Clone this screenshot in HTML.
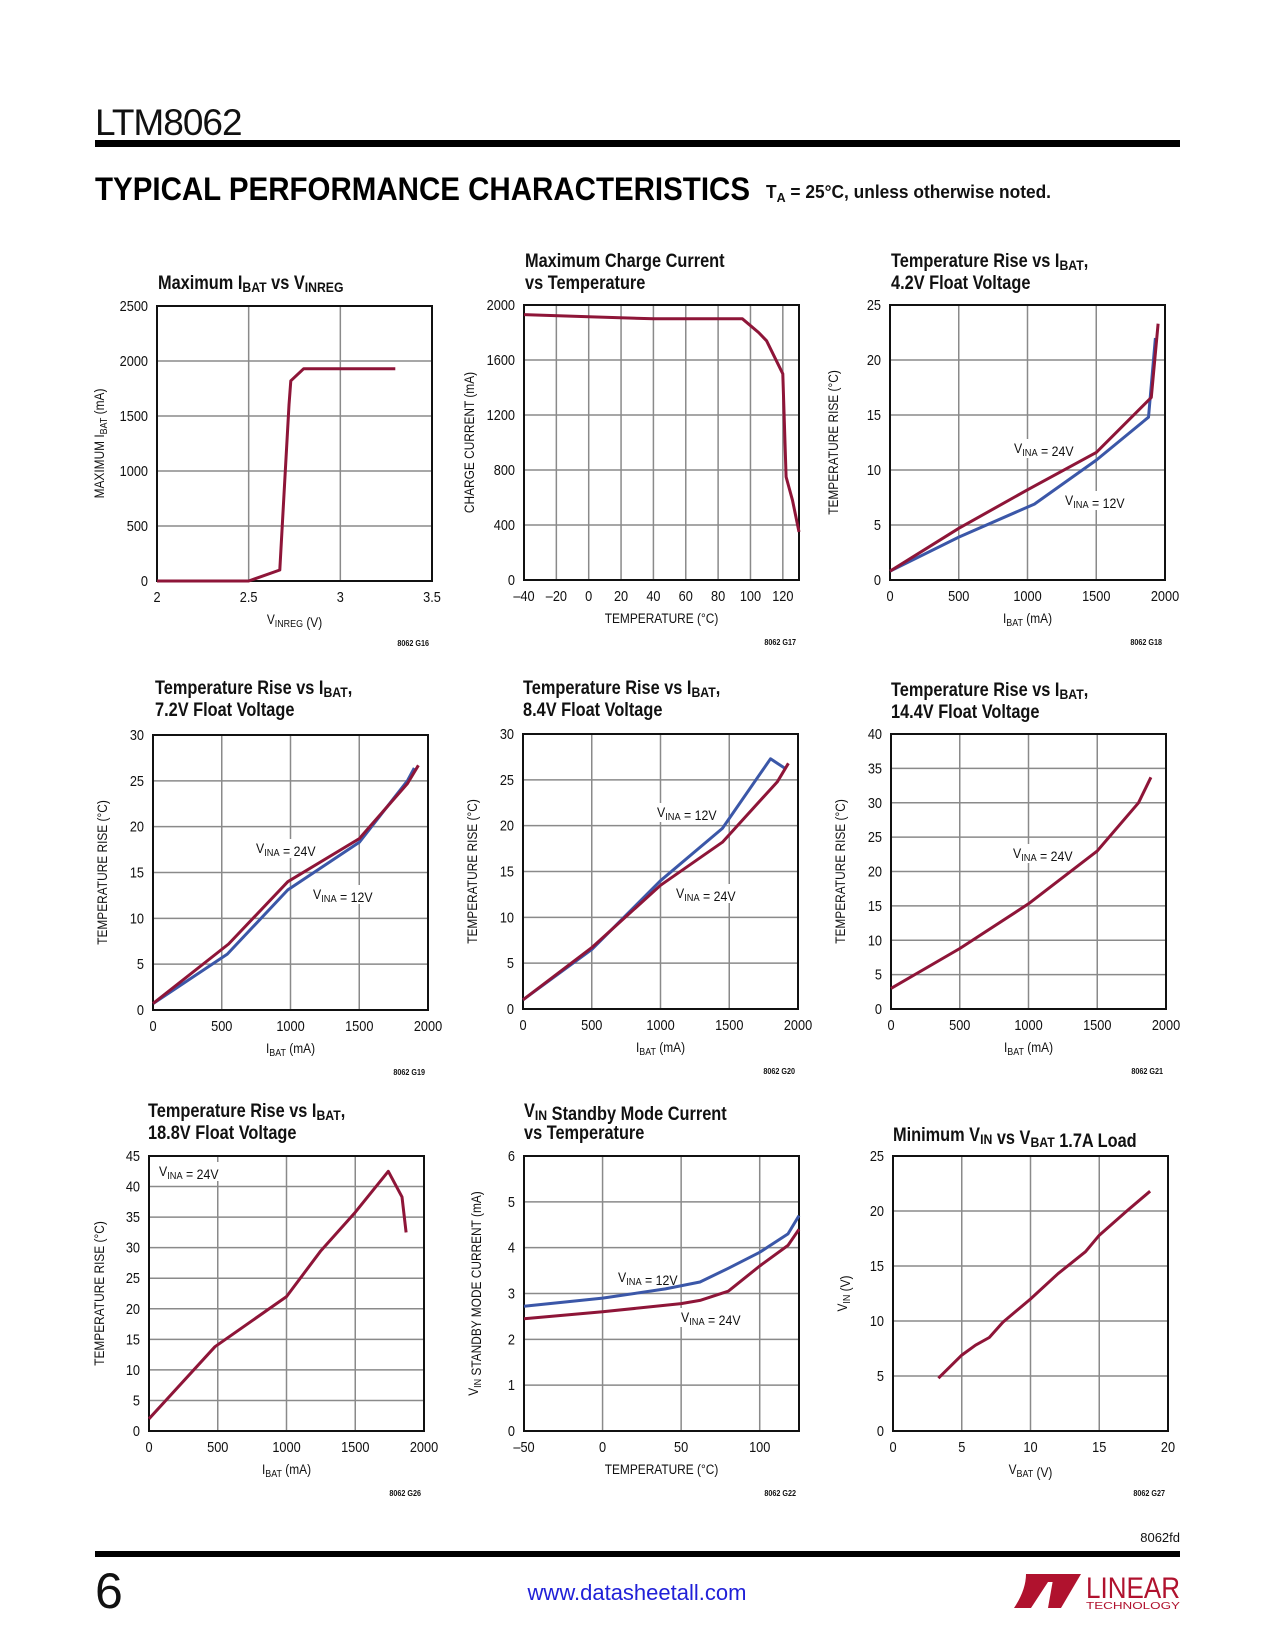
<!DOCTYPE html>
<html><head><meta charset="utf-8"><style>
html,body{margin:0;padding:0;background:#fff;}
svg{display:block;}
</style></head><body>
<svg id="page" width="1275" height="1650" viewBox="0 0 1275 1650" xmlns="http://www.w3.org/2000/svg" font-family="'Liberation Sans', sans-serif">
<g>
<text x="95" y="135" font-size="37" fill="#111" letter-spacing="-1">LTM8062</text>
<rect x="95" y="140" width="1085" height="7" fill="#000"/>
<text x="95" y="200" font-size="32" font-weight="bold" textLength="655" lengthAdjust="spacingAndGlyphs" fill="#000">TYPICAL PERFORMANCE CHARACTERISTICS</text>
<text x="766" y="198" font-size="18" font-weight="bold" textLength="285" lengthAdjust="spacingAndGlyphs" fill="#111">T<tspan font-size="13" dy="4">A</tspan><tspan dy="-4"> = 25°C, unless otherwise noted.</tspan></text>
</g>
<g id="charts"></g>
<g>
<text x="1180" y="1542" font-size="13" text-anchor="end" fill="#111">8062fd</text>
<rect x="95" y="1551" width="1085" height="6" fill="#000"/>
<text x="95" y="1608" font-size="50" fill="#111">6</text>
<text x="637" y="1600" font-size="22" text-anchor="middle" fill="#2020d8">www.datasheetall.com</text>
<g transform="translate(-14,-16)">
<path d="M1040 1590 L1082 1590 L1075 1598 L1062 1598 L1045 1624 L1028 1624 Q1040 1606 1040 1590 Z" fill="#b0122e"/>
<path d="M1068 1590 L1095 1590 L1075 1624 L1062 1624 Z" fill="#b0122e"/>
<text x="1100" y="1614" font-size="30" fill="#b0122e" textLength="94" lengthAdjust="spacingAndGlyphs">LINEAR</text>
<text x="1100" y="1625" font-size="10" fill="#b0122e" textLength="94" lengthAdjust="spacingAndGlyphs">TECHNOLOGY</text>
</g>
</g>
</svg>
<script>
// ---- chart data ----
const c1X = [2, 2.5, 2.67, 2.7, 2.72, 2.73, 2.8, 3.3];
const c1Y = [0, 0, 100, 1000, 1600, 1820, 1930, 1930];
const c2X = [-40, 0, 40, 95, 105, 110, 120, 122, 126, 130];
const c2Y = [1930, 1915, 1900, 1900, 1800, 1740, 1500, 750, 580, 350];
const c3X24 = [0, 500, 1000, 1500, 1900, 1950];
const c3Y24 = [0.8, 4.7, 8.2, 11.6, 16.6, 23.3];
const c3X12 = [0, 500, 1050, 1500, 1880, 1930];
const c3Y12 = [0.8, 3.9, 6.9, 10.9, 14.8, 22];
const c4X24 = [0, 550, 980, 1500, 1850, 1930];
const c4Y24 = [0.7, 7.2, 14, 18.7, 24.7, 26.7];
const c4X12 = [0, 540, 980, 1500, 1850, 1900];
const c4Y12 = [0.7, 6.1, 13.1, 18.3, 25, 26.4];
const c5X24 = [0, 500, 1000, 1450, 1850, 1930];
const c5Y24 = [1, 6.7, 13.5, 18.2, 24.8, 26.8];
const c5X12 = [0, 500, 1000, 1450, 1800, 1900];
const c5Y12 = [1, 6.5, 14, 19.7, 27.3, 26.3];
const c6X = [0, 500, 1000, 1500, 1800, 1890];
const c6Y = [3, 8.8, 15.3, 23, 30, 33.7];
const c7X = [0, 480, 1000, 1250, 1500, 1740, 1840, 1870];
const c7Y = [2, 13.8, 22, 29.5, 35.8, 42.5, 38.3, 32.5];
const c8X12 = [-50, 0, 40, 62, 80, 100, 118, 125];
const c8Y12 = [2.72, 2.9, 3.1, 3.25, 3.55, 3.9, 4.3, 4.7];
const c8X24 = [-50, 0, 50, 62, 80, 100, 118, 125];
const c8Y24 = [2.45, 2.6, 2.78, 2.85, 3.05, 3.6, 4.05, 4.4];
const c9X = [3.3, 5, 6, 7, 8, 10, 12, 14, 15, 17, 18.7];
const c9Y = [4.8, 6.9, 7.8, 8.5, 9.9, 12, 14.3, 16.3, 17.8, 20, 21.8];
// tick labels
const ticks1X = [2, 2.5, 3, 3.5], ticks1Y = [0, 500, 1000, 1500, 2000, 2500];
const ticks2X = [-40, -20, 0, 20, 40, 60, 80, 100, 120], ticks2Y = [0, 400, 800, 1200, 1600, 2000];
const ticksI = [0, 500, 1000, 1500, 2000];
const ticks25 = [0, 5, 10, 15, 20, 25], ticks30 = [0, 5, 10, 15, 20, 25, 30];
const ticks40 = [0, 5, 10, 15, 20, 25, 30, 35, 40], ticks45 = [0, 5, 10, 15, 20, 25, 30, 35, 40, 45];
const ticks8X = [-50, 0, 50, 100], ticks8Y = [0, 1, 2, 3, 4, 5, 6];
const ticks9X = [0, 5, 10, 15, 20];

const NS = 'http://www.w3.org/2000/svg';
const root = document.getElementById('charts');
const RED = '#8e1538', BLUE = '#3b57a8';
function el(tag, attrs, parent) {
  const e = document.createElementNS(NS, tag);
  for (const k in attrs) e.setAttribute(k, attrs[k]);
  parent.appendChild(e);
  return e;
}
function txt(parent, x, y, html, size, anchor, bold, sx, rot) {
  const g = el('g', {transform: 'translate(' + x + ',' + y + ')' + (rot ? ' rotate(' + rot + ')' : '') + ' scale(' + sx + ',1)'}, parent);
  const t = el('text', {x: 0, y: 0, 'font-size': size, 'text-anchor': anchor || 'start', 'font-weight': bold ? 'bold' : 'normal', fill: '#111'}, g);
  t.innerHTML = html;
  return g;
}
const sub = s => '<tspan font-size="0.75em" dy="3">' + s + '</tspan><tspan dy="-3">';
const V = s => 'V' + sub(s) + '</tspan>';
function fmt(v) { return v < 0 ? '\u2013' + (-v) : String(v); }

function chart(cfg) {
  const g = el('g', {}, root);
  
  
  const L = cfg.x, T = cfg.y, W = 275, H = 275;
  const sx = v => L + (v - cfg.xmin) / (cfg.xmax - cfg.xmin) * W;
  const sy = v => T + H - (v - cfg.ymin) / (cfg.ymax - cfg.ymin) * H;
  const grid = el('g', {stroke: '#8a8a8a', 'stroke-width': 1.5}, g);
  
  
  cfg.xgrid.forEach(v => el('line', {x1: sx(v), x2: sx(v), y1: T, y2: T + H}, grid));
  cfg.yticks.forEach(v => el('line', {x1: L, x2: L + W, y1: sy(v), y2: sy(v)}, grid));
  (cfg.notes || []).forEach(n => {
    const r = el('rect', {x: n[0] - 2, y: n[1] - 14, width: 64, height: 19, fill: '#fff'}, g);
    
    
  });
  const fr = el('rect', {x: L, y: T, width: W, height: H, fill: 'none', stroke: '#111', 'stroke-width': 2}, g);
  
  
  cfg.series.forEach(s => {
    const d = s.xs.map((v, i) => (i ? 'L' : 'M') + sx(v).toFixed(1) + ' ' + sy(s.ys[i]).toFixed(1)).join(' ');
    const p = el('path', {d: d, fill: 'none', stroke: s.color, 'stroke-width': 3, 'stroke-linejoin': 'round'}, g);
    
    
  });
  (cfg.notes || []).forEach(n => {
    const t = txt(g, n[0], n[1], n[2], 14, 'start', false, 0.88);
    
    
  });
  cfg.xticks.forEach(v => {
    const t = txt(g, sx(v), T + H + 21, fmt(v), 15, 'middle', false, 0.85);
    
    
  });
  cfg.yticks.forEach(v => {
    const t = txt(g, L - 9, sy(v) + 5, fmt(v), 15, 'end', false, 0.85);
    
    
  });
  const xt = txt(g, L + W / 2, T + H + 43, cfg.xtitle, 14, 'middle', false, 0.85);
  
  
  const yt = txt(g, L - cfg.ytoff, T + H / 2, cfg.ytitle, 14, 'middle', false, 0.85, -90);
  
  
  cfg.title.forEach((line, i) => {
    const t = txt(g, cfg.tx, cfg.ty + i * 22, line, 19, 'start', true, 0.86);
    
    
  });
  const c = txt(g, L + W - 3, T + H + 65, cfg.code, 8, 'end', true, 0.9);
  
  
}
const TR = 'TEMPERATURE RISE (°C)', IB = 'I' + sub('BAT') + ' (mA)</tspan>';
const TRI = 'Temperature Rise vs I' + sub('BAT') + ',</tspan>';
chart({name: 'chart-max-ibat-vs-vinreg', x: 157, y: 306, xmin: 2, xmax: 3.5, ymin: 0, ymax: 2500, xgrid: ticks1X, xticks: ticks1X, yticks: ticks1Y,
  series: [{xs: c1X, ys: c1Y, color: RED, name: 'ibat-line'}], xtitle: V('INREG') + ' (V)', ytitle: 'MAXIMUM I' + sub('BAT') + ' (mA)</tspan>', ytoff: 53,
  title: ['Maximum I' + sub('BAT') + ' vs </tspan>' + V('INREG')], tx: 158, ty: 289, code: '8062 G16'});
chart({name: 'chart-charge-current-vs-temp', x: 524, y: 305, xmin: -40, xmax: 130, ymin: 0, ymax: 2000, xgrid: ticks2X, xticks: ticks2X, yticks: ticks2Y,
  series: [{xs: c2X, ys: c2Y, color: RED, name: 'charge-current-line'}], xtitle: 'TEMPERATURE (°C)', ytitle: 'CHARGE CURRENT (mA)', ytoff: 50,
  title: ['Maximum Charge Current', 'vs Temperature'], tx: 525, ty: 267, code: '8062 G17'});
chart({name: 'chart-temp-rise-4v2', x: 890, y: 305, xmin: 0, xmax: 2000, ymin: 0, ymax: 25, xgrid: ticksI, xticks: ticksI, yticks: ticks25,
  series: [{xs: c3X12, ys: c3Y12, color: BLUE, name: 'vina-12v-line'}, {xs: c3X24, ys: c3Y24, color: RED, name: 'vina-24v-line'}],
  notes: [[1014, 453, V('INA') + ' = 24V'], [1065, 505, V('INA') + ' = 12V']],
  xtitle: IB, ytitle: TR, ytoff: 52, title: [TRI, '4.2V Float Voltage'], tx: 891, ty: 267, code: '8062 G18'});
chart({name: 'chart-temp-rise-7v2', x: 153, y: 735, xmin: 0, xmax: 2000, ymin: 0, ymax: 30, xgrid: ticksI, xticks: ticksI, yticks: ticks30,
  series: [{xs: c4X12, ys: c4Y12, color: BLUE, name: 'vina-12v-line'}, {xs: c4X24, ys: c4Y24, color: RED, name: 'vina-24v-line'}],
  notes: [[256, 853, V('INA') + ' = 24V'], [313, 899, V('INA') + ' = 12V']],
  xtitle: IB, ytitle: TR, ytoff: 46, title: [TRI, '7.2V Float Voltage'], tx: 155, ty: 694, code: '8062 G19'});
chart({name: 'chart-temp-rise-8v4', x: 523, y: 734, xmin: 0, xmax: 2000, ymin: 0, ymax: 30, xgrid: ticksI, xticks: ticksI, yticks: ticks30,
  series: [{xs: c5X12, ys: c5Y12, color: BLUE, name: 'vina-12v-line'}, {xs: c5X24, ys: c5Y24, color: RED, name: 'vina-24v-line'}],
  notes: [[657, 817, V('INA') + ' = 12V'], [676, 898, V('INA') + ' = 24V']],
  xtitle: IB, ytitle: TR, ytoff: 46, title: [TRI, '8.4V Float Voltage'], tx: 523, ty: 694, code: '8062 G20'});
chart({name: 'chart-temp-rise-14v4', x: 891, y: 734, xmin: 0, xmax: 2000, ymin: 0, ymax: 40, xgrid: ticksI, xticks: ticksI, yticks: ticks40,
  series: [{xs: c6X, ys: c6Y, color: RED, name: 'vina-24v-line'}],
  notes: [[1013, 858, V('INA') + ' = 24V']],
  xtitle: IB, ytitle: TR, ytoff: 46, title: [TRI, '14.4V Float Voltage'], tx: 891, ty: 696, code: '8062 G21'});
chart({name: 'chart-temp-rise-18v8', x: 149, y: 1156, xmin: 0, xmax: 2000, ymin: 0, ymax: 45, xgrid: ticksI, xticks: ticksI, yticks: ticks45,
  series: [{xs: c7X, ys: c7Y, color: RED, name: 'vina-24v-line'}],
  notes: [[159, 1176, V('INA') + ' = 24V']],
  xtitle: IB, ytitle: TR, ytoff: 45, title: [TRI, '18.8V Float Voltage'], tx: 148, ty: 1117, code: '8062 G26'});
chart({name: 'chart-standby-current-vs-temp', x: 524, y: 1156, xmin: -50, xmax: 125, ymin: 0, ymax: 6, xgrid: ticks8X, xticks: ticks8X, yticks: ticks8Y,
  series: [{xs: c8X12, ys: c8Y12, color: BLUE, name: 'vina-12v-line'}, {xs: c8X24, ys: c8Y24, color: RED, name: 'vina-24v-line'}],
  notes: [[618, 1282, V('INA') + ' = 12V'], [681, 1322, V('INA') + ' = 24V']],
  xtitle: 'TEMPERATURE (°C)', ytitle: V('IN') + ' STANDBY MODE CURRENT (mA)', ytoff: 46,
  title: [V('IN') + ' Standby Mode Current', 'vs Temperature'], tx: 524, ty: 1117, code: '8062 G22'});
chart({name: 'chart-min-vin-vs-vbat', x: 893, y: 1156, xmin: 0, xmax: 20, ymin: 0, ymax: 25, xgrid: ticks9X, xticks: ticks9X, yticks: ticks25,
  series: [{xs: c9X, ys: c9Y, color: RED, name: 'min-vin-line'}],
  xtitle: V('BAT') + ' (V)', ytitle: V('IN') + ' (V)', ytoff: 46,
  title: ['Minimum ' + V('IN') + ' vs ' + V('BAT') + ' 1.7A Load'], tx: 893, ty: 1141, code: '8062 G27'});
</script>
</body></html>
